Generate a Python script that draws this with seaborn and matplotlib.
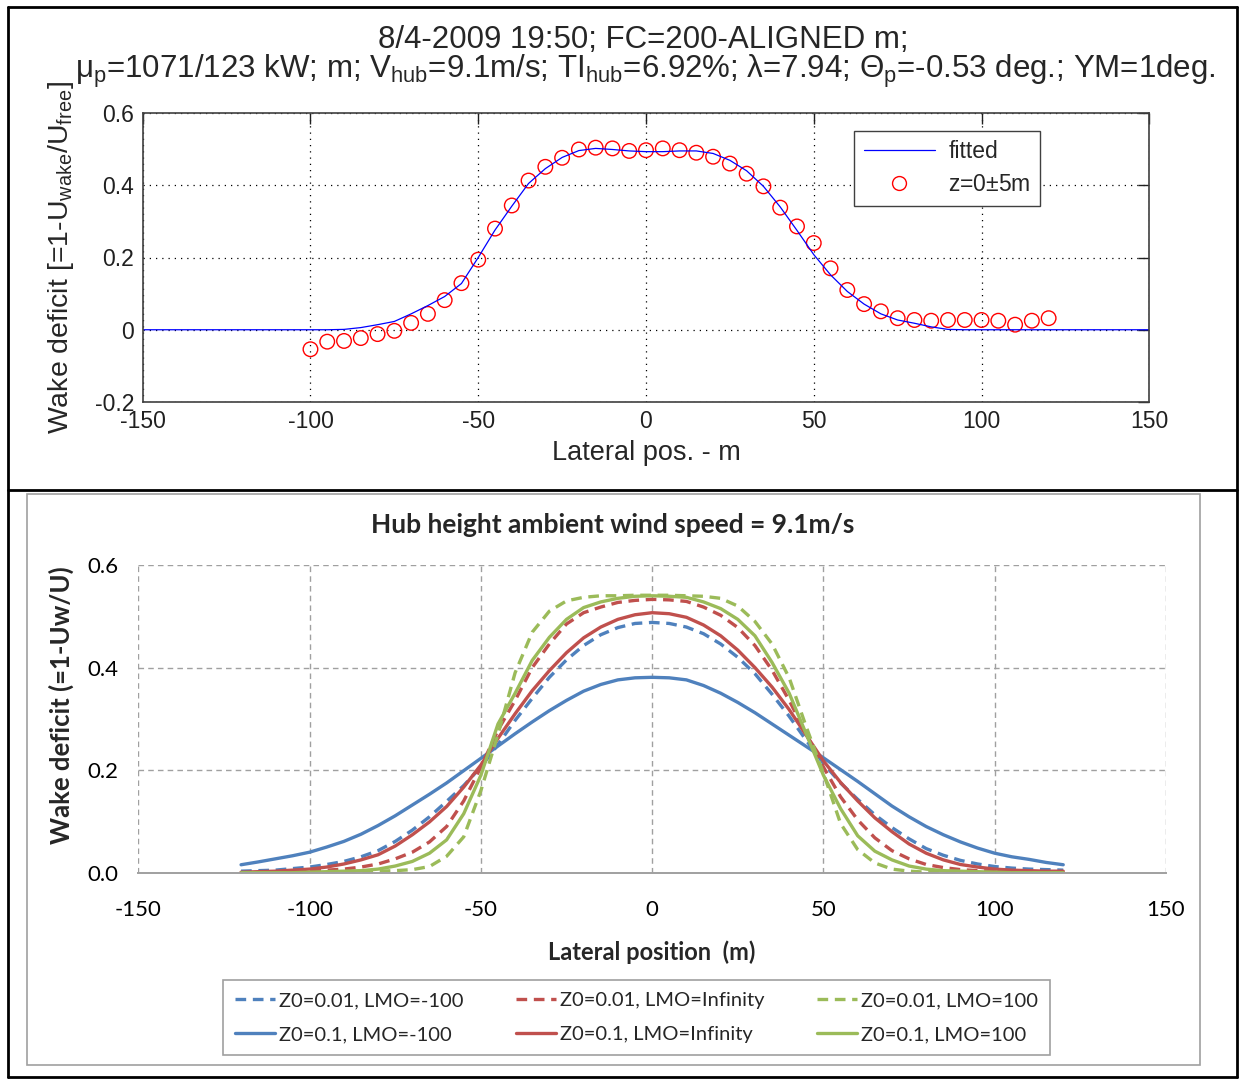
import numpy as np
import pandas as pd
import matplotlib
matplotlib.use("Agg")
import matplotlib.pyplot as plt
import seaborn as sns
from matplotlib.lines import Line2D
from matplotlib.patches import Rectangle

# ---------------- data: top chart (measured + fitted) ----------------
meas_x = list(range(-100, 121, 5))
meas_y = [-0.054, -0.033, -0.031, -0.023, -0.012, -0.003, 0.019, 0.044, 0.082, 0.129,
          0.194, 0.280, 0.344, 0.413, 0.451, 0.476, 0.499, 0.504, 0.502, 0.495,
          0.497, 0.502, 0.497, 0.490, 0.479, 0.460, 0.432, 0.397, 0.338, 0.286,
          0.240, 0.170, 0.110, 0.071, 0.051, 0.032, 0.027, 0.025, 0.027, 0.027,
          0.027, 0.025, 0.014, 0.025, 0.032]
fit_x = list(range(-150, 151, 5))
fit_y = [0, 0, 0, 0, 0, 0, 0, 0, 0, 0, 0, 0,
         0.001, 0.006, 0.014, 0.023, 0.044, 0.067, 0.092, 0.128, 0.200, 0.276,
         0.342, 0.405, 0.446, 0.477, 0.496, 0.502, 0.499, 0.495, 0.493, 0.493,
         0.495, 0.495, 0.488, 0.469, 0.440, 0.397, 0.340, 0.275, 0.208, 0.152,
         0.106, 0.071, 0.044, 0.027, 0.018, 0.008, 0.001,
         0, 0, 0, 0, 0, 0, 0, 0, 0, 0, 0, 0]

# ---------------- data: bottom chart (model curves, 5 m spacing) ----------------
pos_x = list(range(-120, 121, 5))
z001_lmo_m100 = [0.003, 0.004, 0.005, 0.008, 0.011, 0.016, 0.022, 0.031, 0.043, 0.061,
                 0.083, 0.109, 0.139, 0.170, 0.206, 0.250, 0.297, 0.340, 0.381, 0.415,
                 0.443, 0.464, 0.478, 0.486, 0.488,
                 0.486, 0.479, 0.466, 0.446, 0.420, 0.388, 0.348, 0.305, 0.258, 0.213,
                 0.175, 0.143, 0.113, 0.088, 0.066, 0.047, 0.034, 0.024, 0.017, 0.012,
                 0.009, 0.007, 0.006, 0.005]
z01_lmo_m100 = [0.0155, 0.021, 0.027, 0.033, 0.040, 0.050, 0.061, 0.075, 0.092, 0.111,
                0.132, 0.153, 0.175, 0.199, 0.223, 0.247, 0.271, 0.294, 0.316, 0.336,
                0.354, 0.367, 0.376, 0.380, 0.381,
                0.380, 0.376, 0.365, 0.350, 0.332, 0.312, 0.290, 0.268, 0.246, 0.224,
                0.201, 0.178, 0.154, 0.130, 0.109, 0.090, 0.074, 0.060, 0.048, 0.038,
                0.031, 0.026, 0.020, 0.0155]
z001_lmo_inf = [0.000, 0.000, 0.001, 0.002, 0.003, 0.005, 0.007, 0.011, 0.017, 0.027,
                0.040, 0.060, 0.090, 0.140, 0.206, 0.278, 0.336, 0.400, 0.446, 0.485,
                0.507, 0.518, 0.527, 0.531, 0.533,
                0.532, 0.529, 0.518, 0.502, 0.478, 0.443, 0.395, 0.336, 0.270, 0.206,
                0.148, 0.103, 0.068, 0.043, 0.027, 0.016, 0.010, 0.006, 0.004, 0.003,
                0.002, 0.001, 0.000, 0.000]
z01_lmo_inf = [0.001, 0.002, 0.003, 0.005, 0.007, 0.011, 0.017, 0.025, 0.035, 0.052,
               0.074, 0.099, 0.129, 0.167, 0.210, 0.262, 0.310, 0.355, 0.394, 0.429,
               0.458, 0.479, 0.494, 0.503, 0.507,
               0.505, 0.498, 0.483, 0.462, 0.434, 0.400, 0.362, 0.318, 0.268, 0.218,
               0.176, 0.140, 0.107, 0.080, 0.056, 0.038, 0.025, 0.016, 0.011, 0.007,
               0.005, 0.004, 0.003, 0.003]
z001_lmo_100 = [0.000, 0.000, 0.000, 0.000, 0.000, 0.000, 0.001, 0.002, 0.003, 0.004,
                0.006, 0.012, 0.032, 0.070, 0.160, 0.270, 0.390, 0.469, 0.510, 0.530,
                0.537, 0.540, 0.540, 0.541, 0.541,
                0.541, 0.540, 0.539, 0.535, 0.520, 0.490, 0.446, 0.380, 0.284, 0.194,
                0.096, 0.045, 0.019, 0.007, 0.003, 0.001, 0.000, 0.000, 0.000, 0.000,
                0.000, 0.000, 0.000, 0.000]
z01_lmo_100 = [0.000, 0.000, 0.000, 0.000, 0.001, 0.002, 0.003, 0.004, 0.007, 0.013,
               0.022, 0.038, 0.064, 0.115, 0.190, 0.290, 0.350, 0.414, 0.459, 0.494,
               0.517, 0.528, 0.535, 0.539, 0.540,
               0.539, 0.537, 0.528, 0.515, 0.494, 0.462, 0.410, 0.350, 0.270, 0.190,
               0.125, 0.072, 0.042, 0.025, 0.013, 0.007, 0.004, 0.003, 0.002, 0.001,
               0.000, 0.000, 0.000, 0.000]

series_names = ["Z0=0.01, LMO=-100", "Z0=0.1, LMO=-100",
                "Z0=0.01, LMO=Infinity", "Z0=0.1, LMO=Infinity",
                "Z0=0.01, LMO=100", "Z0=0.1, LMO=100"]
series_vals = [z001_lmo_m100, z01_lmo_m100, z001_lmo_inf, z01_lmo_inf, z001_lmo_100, z01_lmo_100]
series_colors = ["#4F81BD", "#4F81BD", "#C0504D", "#C0504D", "#9BBB59", "#9BBB59"]
series_dashed = [True, False, True, False, True, False]

top_title1 = "8/4-2009 19:50; FC=200-ALIGNED m;"
top_title2 = (r"$\mu_{p}$=1071/123 kW; m; V$_{hub}$=9.1m/s; TI$_{hub}$=6.92%; "
              r"$\lambda$=7.94; $\Theta_{p}$=-0.53 deg.; YM=1deg.")
bottom_title = "Hub height ambient wind speed = 9.1m/s"

# ---------------- style ----------------
sns.set_style("white")
plt.rcParams["font.family"] = ["Liberation Sans", "DejaVu Sans"]
plt.rcParams["mathtext.fontset"] = "custom"
plt.rcParams["mathtext.rm"] = "Liberation Sans"
plt.rcParams["mathtext.it"] = "Liberation Sans"
plt.rcParams["mathtext.default"] = "regular"

W, H = 1240, 1080
fig = plt.figure(figsize=(12.4, 10.8), dpi=100)
fig.patch.set_facecolor("white")

def fx(px):
    return px / W

def fy(py):
    return 1 - py / H

# ================= TOP (MATLAB-like) =================
ax1 = fig.add_axes([fx(142.7), fy(402), (1149.3 - 142.7) / W, (402 - 113) / H])
sns.lineplot(x=fit_x, y=fit_y, ax=ax1, color="#0000FF", linewidth=0.9, legend=False)
sns.scatterplot(x=meas_x, y=meas_y, ax=ax1, marker="o", s=110, facecolors="none",
                edgecolor="#FF0000", linewidth=1.0, legend=False)
ax1.set_xlim(-150, 150)
ax1.set_ylim(-0.2, 0.6)
ax1.set_xticks([-150, -100, -50, 0, 50, 100, 150])
ax1.set_xticklabels(["-150", "-100", "-50", "0", "50", "100", "150"])
ax1.set_yticks([-0.2, 0, 0.2, 0.4, 0.6])
ax1.set_yticklabels(["-0.2", "0", "0.2", "0.4", "0.6"])
ax1.grid(True, color="black", linestyle=(0, (1, 4)), linewidth=0.9)
ax1.tick_params(direction="in", length=8, width=1, top=True, right=True,
                labelsize=16.5, pad=6, colors="#202020")
for s in ax1.spines.values():
    s.set_color("#404040")
    s.set_linewidth(1.2)
ax1.set_xlabel("Lateral pos. - m", fontsize=19.5, labelpad=5)
ax1.set_ylabel(r"Wake deficit [=1-U$_{wake}$/U$_{free}$]", fontsize=20.5)
ax1.yaxis.set_label_coords(-0.066, 0.5)

leg_handles = [Line2D([], [], color="#0000FF", linewidth=0.9),
               Line2D([], [], color="#FF0000", marker="o", linestyle="none",
                      markerfacecolor="none", markersize=10, markeredgewidth=1.0)]
leg1 = ax1.legend(leg_handles, ["fitted", r"z=0$\pm$5m"], loc="upper right",
                  bbox_to_anchor=((1040 - 142.7) / 1006.6, (402 - 131) / 289),
                  borderaxespad=0, fontsize=16.5, fancybox=False, framealpha=1,
                  edgecolor="#404040", handlelength=3.1, handletextpad=0.6,
                  borderpad=0.4, labelspacing=0.45)
leg1.get_frame().set_linewidth(1.0)

fig.text(fx(643), fy(40), top_title1, ha="center", va="center", fontsize=22.5)
fig.text(fx(645), fy(71), top_title2, ha="center", va="center", fontsize=22.5)

# ================= BOTTOM (Excel-like) =================
ax2 = fig.add_axes([fx(138.3), fy(872.7), (1166 - 138.3) / W, (872.7 - 565) / H])
rows = []
for name, vals in zip(series_names, series_vals):
    for xv, yv in zip(pos_x, vals):
        rows.append({"x": xv, "y": yv, "series": name})
df = pd.DataFrame(rows)
pal = dict(zip(series_names, series_colors))
dashes = {n: ((3.2, 2.0) if d else "") for n, d in zip(series_names, series_dashed)}
sns.lineplot(data=df, x="x", y="y", hue="series", style="series", hue_order=series_names,
             style_order=series_names, palette=pal, dashes=dashes, linewidth=2.4,
             ax=ax2, legend=False, sort=False, estimator=None)
ax2.set_xlim(-150, 150)
ax2.set_ylim(0, 0.6)
ax2.set_xticks([-150, -100, -50, 0, 50, 100, 150])
ax2.set_yticks([0.0, 0.2, 0.4, 0.6])
ax2.set_yticklabels(["0.0", "0.2", "0.4", "0.6"])
ax2.set_xticklabels(["-150", "-100", "-50", "0", "50", "100", "150"])
for side in ["left", "top", "right"]:
    ax2.spines[side].set_visible(False)
ax2.spines["bottom"].set_color("#A0A0A0")
ax2.spines["bottom"].set_linewidth(1.4)
ax2.grid(True, color="#A0A0A0", linestyle=(0, (4, 3)), linewidth=1.0)
ax2.set_axisbelow(True)
ax2.tick_params(axis="x", direction="out", length=6, width=1, color="#A0A0A0",
                labelsize=16, pad=14, labelcolor="black")
ax2.tick_params(axis="y", length=0, labelsize=16, pad=14, labelcolor="black")
for lab in ax2.get_xticklabels() + ax2.get_yticklabels():
    lab.set_family(["Lato", "DejaVu Sans"])
ax2.set_xlabel("Lateral position  (m)", fontsize=17, fontweight="bold",
               family=["Lato", "DejaVu Sans"], labelpad=14)
ax2.set_ylabel("Wake deficit (=1-Uw/U)", fontsize=18.5, fontweight="bold",
               family=["Lato", "DejaVu Sans"])
ax2.yaxis.set_label_coords(-0.063, 0.545)
ax2.set_title(bottom_title, fontsize=19, fontweight="bold", family=["Lato", "DejaVu Sans"],
              pad=23, x=(613 - 138.3) / 1027.7)

leg_h2 = [Line2D([], [], color=c, linewidth=2.4, linestyle=((0, (3.2, 2.0)) if d else "-"))
          for c, d in zip(series_colors, series_dashed)]
leg2 = fig.legend(leg_h2, series_names, loc="upper center", ncol=3,
                  bbox_to_anchor=(fx(636.5), fy(980)), borderaxespad=0,
                  prop={"family": ["Lato", "DejaVu Sans"], "size": 14.5},
                  fancybox=False, framealpha=1, edgecolor="#A0A0A0",
                  handlelength=2.0, handletextpad=0.2, columnspacing=2.6,
                  borderpad=0.6, labelspacing=0.85)
leg2.get_frame().set_linewidth(1.2)

# ================= frames =================
k = dict(color="black", linewidth=2.0, transform=fig.transFigure)
fig.add_artist(Line2D([fx(8), fx(1237)], [fy(7), fy(7)], **k))
fig.add_artist(Line2D([fx(8), fx(1237)], [fy(1077), fy(1077)], **k))
fig.add_artist(Line2D([fx(8), fx(8)], [fy(7), fy(1077)], **k))
fig.add_artist(Line2D([fx(1237), fx(1237)], [fy(7), fy(1077)], **k))
fig.add_artist(Line2D([fx(8), fx(1237)], [fy(490), fy(490)], **k))
fig.add_artist(Rectangle((fx(27), fy(1065)), fx(1200) - fx(27), fy(494) - fy(1065),
                         transform=fig.transFigure, fill=False, edgecolor="#A0A0A0", linewidth=1.2))

fig.savefig("out.png", dpi=100, facecolor="white")
